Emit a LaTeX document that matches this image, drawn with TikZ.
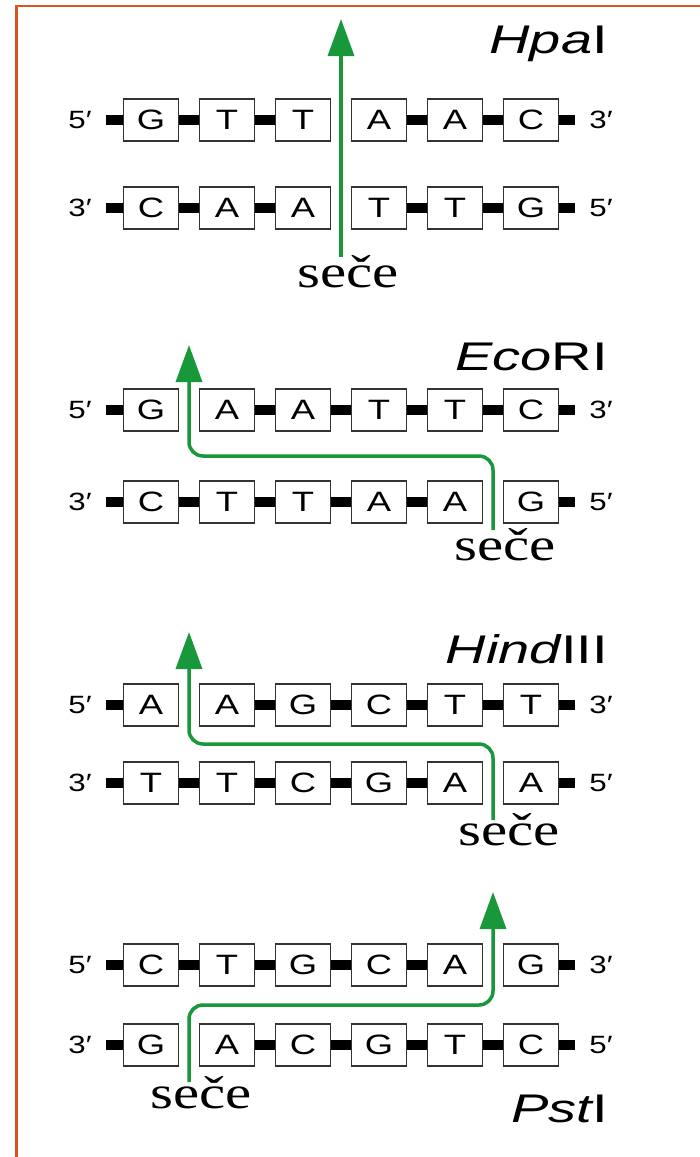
\documentclass[tikz,border=0pt]{standalone}
\usepackage{fontspec}
\setmainfont{Liberation Serif}
\newfontfamily\ntfont[FakeStretch=1.3]{Liberation Sans}
\newfontfamily\endfont[FakeStretch=1.25]{Liberation Sans}
\newfontfamily\labfont[FakeStretch=1.4]{Liberation Sans}
\newfontfamily\secefont[FakeStretch=1.28]{Liberation Serif}
\usetikzlibrary{arrows.meta,calc}
\definecolor{framecol}{RGB}{217,84,33}
\definecolor{cutgreen}{RGB}{24,152,58}
\tikzset{
  nt/.style={draw=black!80, line width=1.5pt, fill=white, minimum width=55pt, minimum height=42pt, inner sep=0pt, font=\ntfont\fontsize{28}{28}\selectfont},
  bond/.style={line width=10pt, black},
  endlab/.style={font=\endfont\fontsize{25}{25}\selectfont, inner sep=0pt},
  cut/.style={cutgreen, line width=3.5pt, rounded corners=14pt, -{Triangle[length=37pt,width=26pt]}},
  enz/.style={font=\labfont\fontsize{40}{40}\selectfont, anchor=base east, inner sep=0pt},
  secelab/.style={font=\secefont\fontsize{46}{46}\selectfont, anchor=base, inner sep=0pt},
  framestyle/.style={framecol, line width=2.5pt},
}
% #1 name, #2 y, #3 letters, #4 index of missing bond, #5 left end, #6 right end
\newcommand\dnastrand[6]{%
  \foreach \L [count=\i] in {#3} {\node[nt] (#1\i) at ({151+76*(\i-1)},#2) {\L};}
  \coordinate (#1L) at (106,#2);
  \coordinate (#1R) at (575,#2);
  \draw[bond] (#1L) -- (#11.west);
  \draw[bond] (#16.east) -- (#1R);
  \foreach \i [evaluate=\i as \j using int(\i+1)] in {1,...,5} {%
    \ifnum\i=#4\relax\else\draw[bond] (#1\i.east) -- (#1\j.west);\fi}
  \node[endlab] (#1l) at (80,#2) {#5};
  \node[endlab] (#1r) at (601,#2) {#6};
}
\begin{document}
\begin{tikzpicture}[x=1pt,y=-1pt]
\useasboundingbox (0,0) rectangle (700,1157);
\coordinate (fa) at (700,6);
\coordinate (fb) at (16.5,6);
\coordinate (fc) at (16.5,1157);
\draw[framestyle] (fa) -- (fb) -- (fc);

% ---------- HpaI ----------
\node[enz] (hpa) at (608,53) {\itshape Hpa\upshape I};
\dnastrand{ha}{120}{G,T,T,A,A,C}{3}{5′}{3′}
\dnastrand{hb}{208}{C,A,A,T,T,G}{3}{3′}{5′}
\coordinate (hcut) at ($(ha3.east)!0.5!(ha4.west)$);
\coordinate (htail) at ($(hb3.east)!0.5!(hb4.west)+(0,49)$);
\coordinate (htip) at ($(hcut)+(0,-101)$);
\draw[cut] (htail) -- (htip);
\node[secelab] (hs) at (348,287) {seče};

% ---------- EcoRI ----------
\node[enz] (eco) at (608,370) {\itshape Eco\upshape RI};
\dnastrand{ea}{410}{G,A,A,T,T,C}{1}{5′}{3′}
\dnastrand{eb}{502}{C,T,T,A,A,G}{5}{3′}{5′}
\coordinate (eup) at ($(ea1.east)!0.5!(ea2.west)$);
\coordinate (elow) at ($(eb5.east)!0.5!(eb6.west)$);
\coordinate (emid) at ($(eup)!0.5!(elow)$);
\coordinate (etail) at ($(elow)+(0,28)$);
\coordinate (etip) at ($(eup)+(0,-65)$);
\draw[cut] (etail) |- (emid) -| (etip);
\node[secelab] (es) at (505,560) {seče};

% ---------- HindIII ----------
\node[enz] (hind) at (608,663) {\itshape Hind\upshape III};
\dnastrand{da}{705}{A,A,G,C,T,T}{1}{5′}{3′}
\dnastrand{db}{783}{T,T,C,G,A,A}{5}{3′}{5′}
\coordinate (dup) at ($(da1.east)!0.5!(da2.west)$);
\coordinate (dlow) at ($(db5.east)!0.5!(db6.west)$);
\coordinate (dmid) at ($(dup)!0.5!(dlow)$);
\coordinate (dtail) at ($(dlow)+(0,37)$);
\coordinate (dtip) at ($(dup)+(0,-73)$);
\draw[cut] (dtail) |- (dmid) -| (dtip);
\node[secelab] (ds) at (509,845) {seče};

% ---------- PstI ----------
\node[enz] (pst) at (608,1122) {\itshape Pst\upshape I};
\dnastrand{pa}{965}{C,T,G,C,A,G}{5}{5′}{3′}
\dnastrand{pb}{1045}{G,A,C,G,T,C}{1}{3′}{5′}
\coordinate (pup) at ($(pa5.east)!0.5!(pa6.west)$);
\coordinate (plow) at ($(pb1.east)!0.5!(pb2.west)$);
\coordinate (pmid) at ($(pup)!0.5!(plow)$);
\coordinate (ptail) at ($(plow)+(0,37)$);
\coordinate (ptip) at ($(pup)+(0,-73)$);
\draw[cut] (ptail) |- (pmid) -| (ptip);
\node[secelab] (ps) at (201,1108) {seče};
\end{tikzpicture}
\end{document}
